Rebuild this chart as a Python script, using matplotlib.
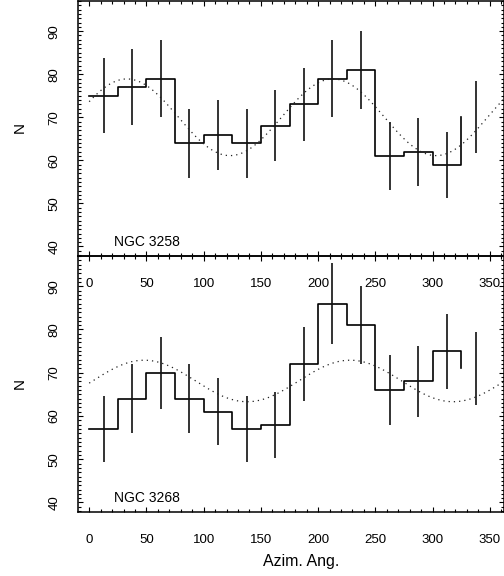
import numpy as np
import matplotlib
matplotlib.use("Agg")
import matplotlib.pyplot as plt
from matplotlib.ticker import MultipleLocator

# ── 0. Azimuthal counts (25 deg bins, left edges) ──────────────────────
bin_edges = [0, 25, 50, 75, 100, 125, 150, 175, 200, 225, 250, 275, 300, 325]
bin_centers = [12.5, 37.5, 62.5, 87.5, 112.5, 137.5, 162.5, 187.5,
               212.5, 237.5, 262.5, 287.5, 312.5, 337.5]

counts_3258 = [75, 77, 79, 64, 66, 64, 68, 73, 79, 81, 61, 62, 59, 70]
counts_3268 = [57, 64, 70, 64, 61, 57, 58, 72, 86, 81, 66, 68, 75, 71]

# cos(2*(theta - phi)) fits: mean, amplitude, phase [deg]
fit_3258 = (70.0, 8.9, 33.0)
fit_3268 = (68.1, 4.8, 48.0)

labels = ["NGC 3258", "NGC 3268"]

plt.rcParams["font.family"] = ["Liberation Sans", "DejaVu Sans"]


def draw_panel(ax, counts, fit, name):
    counts = np.asarray(counts, dtype=float)
    ax.step(bin_edges, counts, where="post", color="black", lw=1.2)
    ax.errorbar(bin_centers, counts, yerr=np.sqrt(counts), fmt="none",
                ecolor="#111111", elinewidth=1.2, capsize=0)

    mean, amp, phase = fit
    theta = np.linspace(0, 362, 400)
    ax.plot(theta, mean + amp * np.cos(np.radians(2 * (theta - phase))),
            color="#222222", lw=0.9, linestyle=(0, (1, 3.2)))

    ax.text(0.085, 0.056, name, transform=ax.transAxes, fontsize=10,
            ha="left", va="center")

    ax.set_xlim(-9.5, 362)
    ax.set_ylim(37.8, 97.0)
    ax.set_facecolor("none")

    ax.xaxis.set_major_locator(MultipleLocator(50))
    ax.xaxis.set_minor_locator(MultipleLocator(10))
    ax.yaxis.set_major_locator(MultipleLocator(10))
    ax.yaxis.set_minor_locator(MultipleLocator(1))
    ax.set_yticks(np.arange(40, 91, 10))

    ax.tick_params(which="both", direction="in", top=True, right=True,
                   width=0.8, labelsize=9.5, color="black")
    ax.tick_params(which="major", length=3.8)
    ax.tick_params(which="minor", length=2.0)
    ax.tick_params(axis="x", pad=15.5)
    ax.tick_params(axis="y", pad=12.8, labelrotation=90)
    for lab in ax.get_yticklabels():
        lab.set_va("center")

    for sp in ax.spines.values():
        sp.set_linewidth(1.1)


def main() -> None:
    fig = plt.figure(figsize=(5.04, 5.76), dpi=100)

    # ── 1. Two stacked panels sharing one border ───────────────────────
    ax_top = fig.add_axes([0.1554, 0.5556, 0.8437, 0.4427])
    ax_bot = fig.add_axes([0.1554, 0.1111, 0.8437, 0.4445])
    ax_top.set_zorder(2)

    draw_panel(ax_top, counts_3258, fit_3258, labels[0])
    draw_panel(ax_bot, counts_3268, fit_3268, labels[1])

    # ── 2. Axis titles ─────────────────────────────────────────────────
    fig.text(0.0387, 0.7786, "N", rotation=90, fontsize=11,
             ha="center", va="center")
    fig.text(0.0387, 0.3345, "N", rotation=90, fontsize=11,
             ha="center", va="center")
    fig.text(0.597, 0.0248, "Azim. Ang.", fontsize=11.5,
             ha="center", va="center")

    fig.savefig("out.png", dpi=100)


if __name__ == "__main__":
    main()
